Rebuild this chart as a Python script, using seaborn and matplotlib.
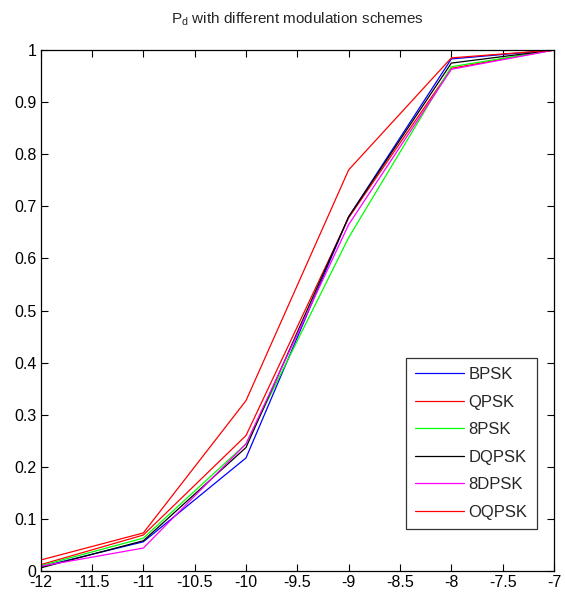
"""
Pd vs SNR for several modulation schemes
"""

from matplotlib import pyplot as plt
import pandas as pd
import seaborn as sns

snr = [-12, -11, -10, -9, -8, -7]
schemes = ["BPSK", "QPSK", "8PSK", "DQPSK", "8DPSK", "OQPSK"]
bpsk = [0.008, 0.056, 0.217, 0.680, 0.983, 1.0]
qpsk = [0.012, 0.069, 0.260, 0.678, 0.965, 1.0]
psk8 = [0.010, 0.063, 0.244, 0.640, 0.968, 1.0]
dqpsk = [0.006, 0.058, 0.237, 0.680, 0.975, 1.0]
dpsk8 = [0.009, 0.044, 0.244, 0.665, 0.963, 1.0]
oqpsk = [0.021, 0.073, 0.327, 0.770, 0.985, 1.0]
colors = ["#0000ff", "#ff0000", "#00ff00", "#000000", "#ff00ff", "#ff0000"]

values = [bpsk, qpsk, psk8, dqpsk, dpsk8, oqpsk]
df = pd.DataFrame(
    [(x, y, name) for name, ys in zip(schemes, values) for x, y in zip(snr, ys)],
    columns=["snr", "pd", "scheme"],
)

sns.set_style("ticks")
plt.rcParams["font.family"] = ["Liberation Sans", "DejaVu Sans"]
plt.rcParams["mathtext.fontset"] = "custom"
plt.rcParams["mathtext.rm"] = "Liberation Sans"
plt.rcParams["mathtext.it"] = "Liberation Sans"

fig = plt.figure(figsize=(5.65, 5.96), dpi=100)
ax = fig.add_axes([0.072, 0.042, 0.9085, 0.874])
sns.lineplot(
    data=df, x="snr", y="pd", hue="scheme", hue_order=schemes,
    palette=colors, linewidth=0.9, ax=ax,
)
ax.set_xlim(-12, -7)
ax.set_ylim(0, 1)
ax.set_xticks([-12, -11.5, -11, -10.5, -10, -9.5, -9, -8.5, -8, -7.5, -7])
ax.set_xticklabels(["-12", "-11.5", "-11", "-10.5", "-10", "-9.5", "-9",
                    "-8.5", "-8", "-7.5", "-7"])
ax.set_yticks([i / 10 for i in range(11)])
ax.set_yticklabels(["0", "0.1", "0.2", "0.3", "0.4", "0.5", "0.6", "0.7",
                    "0.8", "0.9", "1"])
ax.tick_params(direction="in", top=True, right=True, labelsize=11.5, length=5,
               width=0.8, colors="black", pad=3)
for s in ax.spines.values():
    s.set_visible(True)
    s.set_color("black")
    s.set_linewidth(0.9)
ax.set_xlabel("")
ax.set_ylabel("")
ax.set_title("P$_\\mathrm{d}$ with different modulation schemes", fontsize=11, pad=19)
leg = ax.legend(loc="lower left", bbox_to_anchor=(0.712, 0.0806), fontsize=12,
                frameon=True, fancybox=False, edgecolor="black",
                handlelength=2.9, handletextpad=0.3, labelspacing=0.75,
                borderpad=0.55, borderaxespad=0)
leg.get_frame().set_linewidth(0.9)
fig.savefig("out.png", dpi=100)
